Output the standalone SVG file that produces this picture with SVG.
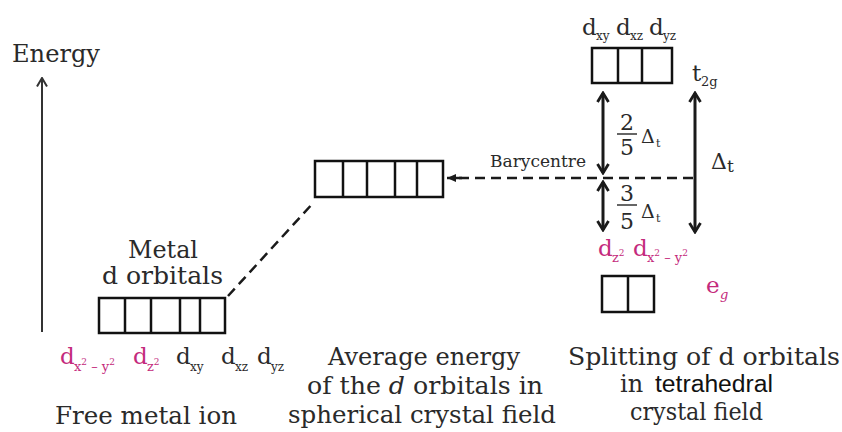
<svg xmlns="http://www.w3.org/2000/svg" width="842" height="432" viewBox="0 0 842 432">
<defs>
<style>
.t{font-family:"DejaVu Serif","Liberation Serif",serif;fill:#2a2a2a;}
.m{fill:#c42a7c;}
.box{fill:#fff;stroke:#111;stroke-width:2.5;}
.dv{stroke:#111;stroke-width:2.5;}
.dash{stroke:#1a1a1a;stroke-width:2.5;stroke-dasharray:10 6;fill:none;}
.arr{stroke:#1a1a1a;stroke-width:3;fill:none;}
.bar{stroke:#333;stroke-width:1.5;}
</style>
<marker id="ch" viewBox="0 0 14 14" refX="12" refY="7" markerWidth="14" markerHeight="14" markerUnits="userSpaceOnUse" orient="auto-start-reverse">
<path d="M3,1.5 L12,7 L3,12.5" fill="none" stroke="#1a1a1a" stroke-width="2.8"/>
</marker>
<marker id="che" viewBox="0 0 12 12" refX="10.5" refY="6" markerWidth="12" markerHeight="12" markerUnits="userSpaceOnUse" orient="auto">
<path d="M2,1 L10.5,6 L2,11" fill="none" stroke="#333" stroke-width="2"/>
</marker>
<marker id="fa" viewBox="0 0 10 10" refX="9" refY="5" markerWidth="10" markerHeight="10" markerUnits="userSpaceOnUse" orient="auto">
<path d="M0,1 L9,5 L0,9 Z" fill="#1a1a1a"/>
</marker>
</defs>

<g id="energy-axis">
<text class="t" x="12" y="62" font-size="24" textLength="88" lengthAdjust="spacingAndGlyphs">Energy</text>
<line x1="42" y1="332" x2="42" y2="78" stroke="#333" stroke-width="2" marker-end="url(#che)"/>
</g>

<g id="free-ion">
<text class="t" x="128" y="258" font-size="24" textLength="70" lengthAdjust="spacingAndGlyphs">Metal</text>
<text class="t" x="102" y="284" font-size="24" textLength="121" lengthAdjust="spacingAndGlyphs">d orbitals</text>
<rect class="box" x="99" y="298" width="126" height="35"/>
<line class="dv" x1="125" y1="298" x2="125" y2="333"/>
<line class="dv" x1="151" y1="298" x2="151" y2="333"/>
<line class="dv" x1="180" y1="298" x2="180" y2="333"/>
<line class="dv" x1="200" y1="298" x2="200" y2="333"/>
<text class="t m" x="60" y="364" font-size="23">d</text>
<text class="t m" x="74" y="371" font-size="13">x<tspan font-size="9" dy="-6">2</tspan><tspan dy="6"> – y</tspan><tspan font-size="9" dy="-6">2</tspan></text>
<text class="t m" x="133" y="364" font-size="23">d</text>
<text class="t m" x="147" y="371" font-size="13">z<tspan font-size="9" dy="-6">2</tspan></text>
<text class="t" x="176" y="364" font-size="23">d</text>
<text class="t" x="190" y="371" font-size="12">xy</text>
<text class="t" x="221" y="364" font-size="23">d</text>
<text class="t" x="235" y="371" font-size="12">xz</text>
<text class="t" x="257" y="364" font-size="23">d</text>
<text class="t" x="271" y="371" font-size="12">yz</text>
<text class="t" x="55" y="424" font-size="24" textLength="182" lengthAdjust="spacingAndGlyphs">Free metal ion</text>
</g>

<g id="spherical">
<rect class="box" x="315" y="161" width="128" height="36"/>
<line class="dv" x1="343" y1="161" x2="343" y2="197"/>
<line class="dv" x1="367" y1="161" x2="367" y2="197"/>
<line class="dv" x1="395" y1="161" x2="395" y2="197"/>
<line class="dv" x1="417" y1="161" x2="417" y2="197"/>
<text class="t" x="328" y="365" font-size="24" textLength="192" lengthAdjust="spacingAndGlyphs">Average energy</text>
<text class="t" x="307" y="394" font-size="24" textLength="236" lengthAdjust="spacingAndGlyphs">of the <tspan font-style="italic">d</tspan> orbitals in</text>
<text class="t" x="288" y="423" font-size="24" textLength="268" lengthAdjust="spacingAndGlyphs">spherical crystal field</text>
</g>

<g id="t2g">
<text class="t" x="582" y="35" font-size="23">d</text>
<text class="t" x="596" y="40" font-size="12">xy</text>
<text class="t" x="616" y="35" font-size="23">d</text>
<text class="t" x="630" y="40" font-size="12">xz</text>
<text class="t" x="649" y="35" font-size="23">d</text>
<text class="t" x="663" y="40" font-size="12">yz</text>
<rect class="box" x="592" y="48" width="80" height="35"/>
<line class="dv" x1="618" y1="48" x2="618" y2="83"/>
<line class="dv" x1="642" y1="48" x2="642" y2="83"/>
<text class="t" x="692" y="81" font-size="23">t</text>
<text class="t" x="701" y="86" font-size="13">2g</text>
</g>

<g id="eg">
<text class="t m" x="598" y="256" font-size="23">d</text>
<text class="t m" x="612" y="262" font-size="13">z<tspan font-size="9" dy="-6">2</tspan></text>
<text class="t m" x="633" y="256" font-size="23">d</text>
<text class="t m" x="647" y="262" font-size="13">x<tspan font-size="9" dy="-6">2</tspan><tspan dy="6"> – y</tspan><tspan font-size="9" dy="-6">2</tspan></text>
<rect class="box" x="602" y="276" width="52" height="36"/>
<line class="dv" x1="628" y1="276" x2="628" y2="312"/>
<text class="t m" x="706" y="293" font-size="23">e</text>
<text class="t m" x="720" y="299" font-size="13" font-style="italic">g</text>
</g>

<g id="labels-right">
<text class="t" x="627" y="130" font-size="22" text-anchor="middle">2</text>
<line class="bar" x1="617" y1="134" x2="637" y2="134"/>
<text class="t" x="627" y="155" font-size="22" text-anchor="middle">5</text>
<text class="t" x="641" y="143" font-size="19">Δ</text>
<text class="t" x="656" y="147" font-size="11">t</text>
<text class="t" x="627" y="201" font-size="22" text-anchor="middle">3</text>
<line class="bar" x1="617" y1="205" x2="637" y2="205"/>
<text class="t" x="627" y="229" font-size="22" text-anchor="middle">5</text>
<text class="t" x="641" y="218" font-size="19">Δ</text>
<text class="t" x="656" y="222" font-size="11">t</text>
<text class="t" x="711" y="169" font-size="22">Δ</text>
<text class="t" x="727" y="172" font-size="17">t</text>
<text class="t" x="490" y="167" font-size="16" textLength="96" lengthAdjust="spacingAndGlyphs">Barycentre</text>
<text class="t" x="568" y="365" font-size="24" textLength="272" lengthAdjust="spacingAndGlyphs">Splitting of d orbitals</text>
<text class="t" x="620" y="392" font-size="24">in</text>
<text x="655" y="392" font-size="23" font-family="'Liberation Sans Narrow','Liberation Sans',sans-serif" fill="#111" textLength="118" lengthAdjust="spacingAndGlyphs">tetrahedral</text>
<text class="t" x="630" y="420" font-size="24" textLength="133" lengthAdjust="spacingAndGlyphs">crystal field</text>
</g>

<g id="connectors">
<line class="dash" x1="228" y1="296" x2="314" y2="202"/>
<line class="dash" x1="693" y1="178" x2="455" y2="178"/>
<line x1="462" y1="178" x2="447" y2="178" stroke="#1a1a1a" stroke-width="2.5" marker-end="url(#fa)"/>
<line class="arr" x1="603" y1="173" x2="603" y2="93" marker-start="url(#ch)" marker-end="url(#ch)"/>
<line class="arr" x1="603" y1="230" x2="603" y2="182" marker-start="url(#ch)" marker-end="url(#ch)"/>
<line class="arr" x1="695" y1="232" x2="695" y2="93" marker-start="url(#ch)" marker-end="url(#ch)"/>
</g>
</svg>
